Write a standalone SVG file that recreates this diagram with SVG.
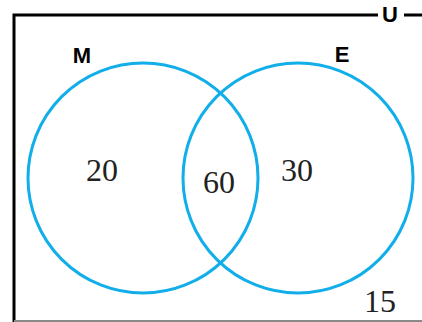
<svg xmlns="http://www.w3.org/2000/svg" width="422" height="322" viewBox="0 0 422 322">
<style>
.set{fill:none;stroke:#12aee9;stroke-width:3}
.frame{fill:none;stroke:#000;stroke-width:3}
.num{font-family:"Liberation Serif",serif;font-size:32px;fill:#222;text-anchor:middle}
.lbl{font-family:"Liberation Sans",sans-serif;font-weight:bold;font-size:22px;fill:#000;text-anchor:middle}
</style>
<rect width="422" height="322" fill="#fff"/>
<g id="universe">
<path class="frame" d="M14,322 V15 H378 M404,15 H422"/>
<line x1="14" y1="321" x2="422" y2="321" stroke="#8a8a8a" stroke-width="2"/>
<text class="lbl" x="390" y="22">U</text>
<text class="num" x="380" y="312">15</text>
</g>
<g id="M">
<circle class="set" cx="143" cy="178" r="115"/>
<text class="lbl" x="82" y="63">M</text>
<text class="num" x="102" y="181">20</text>
</g>
<g id="E">
<circle class="set" cx="298" cy="178" r="115"/>
<text class="lbl" x="342" y="62">E</text>
<text class="num" x="297" y="181">30</text>
</g>
<g id="intersection">
<text class="num" x="219" y="193">60</text>
</g>
<g id="connectors"/>
</svg>
